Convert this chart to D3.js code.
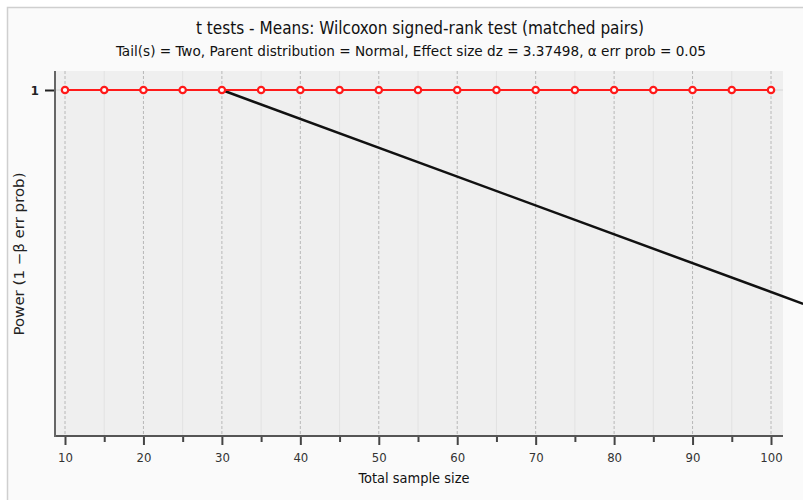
<!DOCTYPE html>
<html><head><meta charset="utf-8">
<script src="https://cdn.jsdelivr.net/npm/d3@7"></script>
<style>
html,body{margin:0;padding:0;background:#ffffff;}
svg{display:block;}
text{font-family:"DejaVu Sans Condensed","DejaVu Sans",sans-serif;}
</style></head>
<body>
<svg id="chart" width="803" height="500"></svg>
<script>
const title = "t tests - Means: Wilcoxon signed-rank test (matched pairs)";
const subtitle = "Tail(s) = Two, Parent distribution = Normal, Effect size dz = 3.37498, α err prob = 0.05";
const xLabel = "Total sample size";
const yLabel = "Power (1 −β err prob)";
const sampleSizes = [10,15,20,25,30,35,40,45,50,55,60,65,70,75,80,85,90,95,100];
const powerValues = [1,1,1,1,1,1,1,1,1,1,1,1,1,1,1,1,1,1,1];
const blackLineX = [30, 104.1];
const blackLineY = [1, 0.382];
const xMajorTicks = [10,20,30,40,50,60,70,80,90,100];
const xMinorTicks = [15,25,35,45,55,65,75,85,95];
const yTicks = [1];

const svg = d3.select("#chart");
const W = 803, H = 500;
const plot = {left:55, right:783, top:71, bottom:436};
const x = d3.scaleLinear().domain([10,100]).range([65,771]);
const y = d3.scaleLinear().domain([0,1]).range([436,90]);
const FONT = '"DejaVu Sans Condensed","DejaVu Sans",sans-serif';

// page frame
svg.append("rect").attr("x",7.5).attr("y",7.5).attr("width",W).attr("height",H)
  .attr("fill","#fafafa").attr("stroke","#cfcfcf").attr("stroke-width",1.5);

// plot bg
svg.append("rect").attr("x",plot.left).attr("y",plot.top)
  .attr("width",plot.right-plot.left).attr("height",plot.bottom-plot.top)
  .attr("fill","#efefef");

// minor grid
svg.append("g").selectAll("line").data(xMinorTicks).join("line")
  .attr("x1",d=>x(d)).attr("x2",d=>x(d)).attr("y1",plot.top).attr("y2",plot.bottom)
  .attr("stroke","#e2e2e2").attr("stroke-width",1);
// major grid
svg.append("g").selectAll("line").data(xMajorTicks).join("line")
  .attr("x1",d=>x(d)).attr("x2",d=>x(d)).attr("y1",plot.top).attr("y2",plot.bottom)
  .attr("stroke","#b8b8b8").attr("stroke-width",1).attr("stroke-dasharray","3,2");
// horizontal grid
svg.append("g").selectAll("line").data(yTicks).join("line")
  .attr("x1",plot.left).attr("x2",plot.right).attr("y1",d=>y(d)).attr("y2",d=>y(d))
  .attr("stroke","#d6d6d6").attr("stroke-width",1);

// axes
const xAxisMajor = d3.axisBottom(x).tickValues(xMajorTicks).tickSize(9).tickPadding(8);
const gx = svg.append("g").attr("transform",`translate(0,${plot.bottom})`).call(xAxisMajor);
gx.select(".domain").remove();
gx.selectAll(".tick line").attr("stroke","#444").attr("stroke-width",2);
gx.selectAll(".tick text").attr("font-size",13).attr("fill","#333").style("font-family",FONT);
const xAxisMinor = d3.axisBottom(x).tickValues(xMinorTicks).tickSize(6).tickFormat("");
const gxm = svg.append("g").attr("transform",`translate(0,${plot.bottom})`).call(xAxisMinor);
gxm.select(".domain").remove();
gxm.selectAll(".tick line").attr("stroke","#444").attr("stroke-width",2);

svg.append("line").attr("x1",plot.left).attr("x2",plot.right).attr("y1",plot.bottom).attr("y2",plot.bottom)
  .attr("stroke","#555").attr("stroke-width",2);

const yAxis = d3.axisLeft(y).tickValues(yTicks).tickSize(10).tickPadding(6).tickFormat(d3.format("d"));
const gy = svg.append("g").attr("transform",`translate(${plot.left},0)`).call(yAxis);
gy.select(".domain").remove();
gy.selectAll(".tick line").attr("stroke","#222").attr("stroke-width",2);
gy.selectAll(".tick text").attr("font-size",13).attr("font-weight","bold").attr("fill","#222").style("font-family",FONT);
svg.append("line").attr("x1",plot.left).attr("x2",plot.left).attr("y1",plot.top).attr("y2",plot.bottom+1)
  .attr("stroke","#666").attr("stroke-width",2);

// black line
const blackData = blackLineX.map((v,i)=>[v, blackLineY[i]]);
svg.append("path").datum(blackData)
  .attr("d", d3.line().x(d=>x(d[0])).y(d=>y(d[1])))
  .attr("fill","none").attr("stroke","#111").attr("stroke-width",2.5);

// red series
const redData = sampleSizes.map((v,i)=>[v, powerValues[i]]);
svg.append("path").datum(redData)
  .attr("d", d3.line().x(d=>x(d[0])).y(d=>y(d[1])))
  .attr("fill","none").attr("stroke","#ff1a1a").attr("stroke-width",2.2);
svg.append("g").selectAll("circle").data(redData).join("circle")
  .attr("cx",d=>x(d[0])).attr("cy",d=>y(d[1])).attr("r",3.2)
  .attr("fill","#fff").attr("stroke","#ff1a1a").attr("stroke-width",2.2);

// titles
svg.append("text").attr("x",420).attr("y",34).attr("text-anchor","middle")
  .attr("font-size",18).attr("fill","#111")
  .attr("textLength",448).attr("lengthAdjust","spacingAndGlyphs").text(title);
svg.append("text").attr("x",411).attr("y",56).attr("text-anchor","middle")
  .attr("font-size",14.5).attr("fill","#111")
  .attr("textLength",590).attr("lengthAdjust","spacingAndGlyphs").text(subtitle);
svg.append("text").attr("x",414).attr("y",483).attr("text-anchor","middle")
  .attr("font-size",14.5).attr("fill","#111")
  .attr("textLength",111).attr("lengthAdjust","spacingAndGlyphs").text(xLabel);
svg.append("text").attr("transform","translate(24,254) rotate(-90)").attr("text-anchor","middle")
  .attr("font-size",13.5).attr("fill","#222")
  .attr("textLength",163).attr("lengthAdjust","spacingAndGlyphs").text(yLabel);
</script>
</body></html>
